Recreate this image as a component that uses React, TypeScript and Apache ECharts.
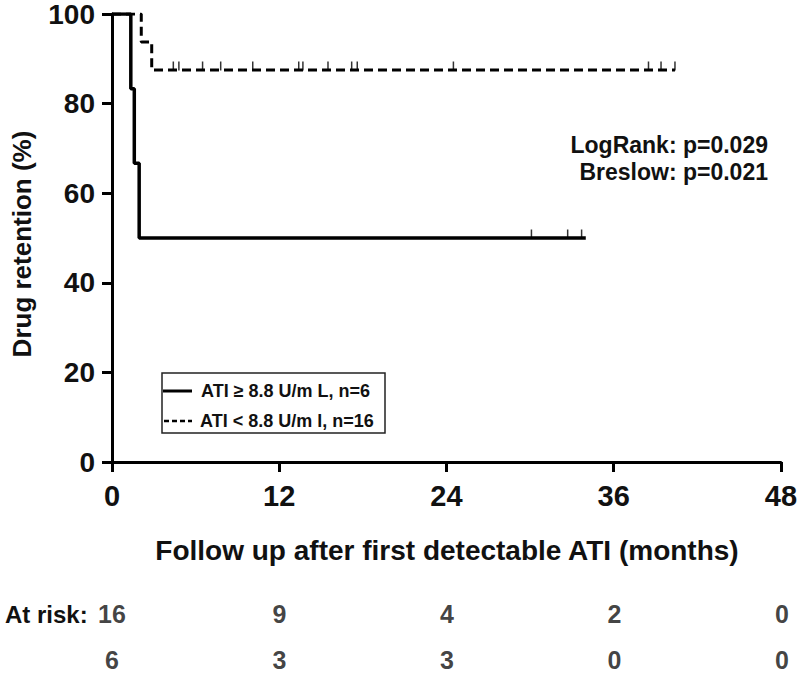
import React, { useEffect, useRef } from "react";
import * as echarts from "echarts";

// ---- data ----
const xTicks = [0, 12, 24, 36, 48];
const yTicks = [0, 20, 40, 60, 80, 100];

// Kaplan-Meier step points (months, % retained)
const highTimes = [0, 1.35, 1.6, 1.95, 34.0];
const highSurv = [100, 83.3, 66.7, 50, 50];
const highCensor = [30.1, 32.7, 33.7];

const lowTimes = [0, 2.1, 2.85, 40.4];
const lowSurv = [100, 93.75, 87.5, 87.5];
const lowCensor = [4.4, 4.8, 6.5, 7.8, 10.1, 13.4, 13.7, 15.5, 17.2, 17.6, 24.5, 38.5, 39.4, 40.4];

const riskTimes = [0, 12, 24, 36, 48];
const riskLow = [16, 9, 4, 2, 0];
const riskHigh = [6, 3, 3, 0, 0];

const legendHigh = "ATI \u2265 8.8 U/m L, n=6";
const legendLow = "ATI < 8.8 U/m l, n=16";
const xTitle = "Follow up after first detectable ATI (months)";
const yTitle = "Drug retention (%)";
const statLines = ["LogRank: p=0.029", "Breslow: p=0.021"];

const FONT = "'Liberation Sans', Arial, Helvetica, sans-serif";

export default function App() {
  const ref = useRef<HTMLDivElement>(null);
  useEffect(() => {
    if (!ref.current) return;
    const chart = echarts.init(ref.current, null, { renderer: "svg" });
    const pts = (t: number[], s: number[]) => t.map((x, i) => [x, s[i]]);
    const censorPts = (c: number[], t: number[], s: number[]) =>
      c.map((x) => {
        let v = s[0];
        for (let i = 0; i < t.length; i++) if (t[i] <= x) v = s[i];
        return [x, v];
      });
    const riskLabel = {
      show: true,
      position: "inside",
      color: "#111",
      fontFamily: FONT,
      fontWeight: "bold",
      fontSize: 25,
      formatter: (p: any) => String(p.value[2]),
    };

    const option: any = {
      animation: false,
      backgroundColor: "#ffffff",
      grid: [
        { left: 112, top: 13, width: 670, height: 449, containLabel: false },
        { left: 112, top: 600, width: 670, height: 69, containLabel: false },
      ],
      xAxis: [
        {
          gridIndex: 0,
          type: "value",
          min: 0,
          max: 48,
          interval: 12,
          axisLine: { show: true, onZero: false, lineStyle: { color: "#000", width: 3 } },
          axisTick: { show: true, inside: false, length: 10, lineStyle: { color: "#000", width: 3 } },
          axisLabel: {
            color: "#111",
            fontFamily: FONT,
            fontWeight: "bold",
            fontSize: 29,
            margin: 19,
            formatter: (v: number) => (xTicks.includes(v) ? String(v) : ""),
          },
          splitLine: { show: false },
        },
        { gridIndex: 1, type: "value", min: 0, max: 48, show: false },
      ],
      yAxis: [
        {
          gridIndex: 0,
          type: "value",
          min: 0,
          max: 100,
          interval: 20,
          axisLine: { show: true, onZero: false, lineStyle: { color: "#000", width: 3 } },
          axisTick: { show: true, inside: false, length: 10, lineStyle: { color: "#000", width: 3 } },
          axisLabel: {
            color: "#111",
            fontFamily: FONT,
            fontWeight: "bold",
            fontSize: 28,
            margin: 17,
            formatter: (v: number) => (yTicks.includes(v) ? String(v) : ""),
          },
          splitLine: { show: false },
        },
        { gridIndex: 1, type: "value", min: 0.7, max: 2.2, inverse: true, show: false },
      ],
      series: [
        {
          type: "line",
          xAxisIndex: 0,
          yAxisIndex: 0,
          step: "end",
          symbol: "none",
          data: pts(highTimes, highSurv),
          lineStyle: { color: "#000", width: 3.5 },
          z: 3,
        },
        {
          type: "line",
          xAxisIndex: 0,
          yAxisIndex: 0,
          step: "end",
          symbol: "none",
          data: pts(lowTimes, lowSurv),
          lineStyle: { color: "#000", width: 3, type: [9, 5] },
          z: 2,
        },
        {
          type: "scatter",
          xAxisIndex: 0,
          yAxisIndex: 0,
          symbol: "rect",
          symbolSize: [1.5, 9],
          symbolOffset: [0, -4],
          itemStyle: { color: "#000" },
          data: censorPts(highCensor, highTimes, highSurv),
        },
        {
          type: "scatter",
          xAxisIndex: 0,
          yAxisIndex: 0,
          symbol: "rect",
          symbolSize: [1.5, 9],
          symbolOffset: [0, -4],
          itemStyle: { color: "#000" },
          data: censorPts(lowCensor, lowTimes, lowSurv),
        },
        {
          type: "scatter",
          xAxisIndex: 1,
          yAxisIndex: 1,
          symbolSize: 0,
          silent: true,
          label: riskLabel,
          data: riskTimes.map((t, i) => [t, 1, riskLow[i]]),
        },
        {
          type: "scatter",
          xAxisIndex: 1,
          yAxisIndex: 1,
          symbolSize: 0,
          silent: true,
          label: riskLabel,
          data: riskTimes.map((t, i) => [t, 2, riskHigh[i]]),
        },
      ],
      graphic: [
        {
          type: "text",
          x: 22,
          y: 244,
          rotation: Math.PI / 2,
          style: {
            text: yTitle,
            fill: "#111",
            font: `bold 26px ${FONT}`,
            align: "center",
            verticalAlign: "middle",
          },
        },
        {
          type: "text",
          x: 447,
          y: 550,
          style: {
            text: xTitle,
            fill: "#111",
            font: `bold 28px ${FONT}`,
            align: "center",
            verticalAlign: "middle",
          },
        },
        {
          type: "text",
          x: 768,
          y: 145,
          style: {
            text: statLines[0],
            fill: "#111",
            font: `bold 23px ${FONT}`,
            align: "right",
            verticalAlign: "middle",
          },
        },
        {
          type: "text",
          x: 768,
          y: 172,
          style: {
            text: statLines[1],
            fill: "#111",
            font: `bold 23px ${FONT}`,
            align: "right",
            verticalAlign: "middle",
          },
        },
        {
          type: "rect",
          shape: { x: 162, y: 373, width: 223, height: 60 },
          style: { fill: "#fff", stroke: "#222", lineWidth: 1.5 },
          z: 10,
        },
        {
          type: "line",
          shape: { x1: 163, y1: 391, x2: 192, y2: 391 },
          style: { stroke: "#000", lineWidth: 3 },
          z: 11,
        },
        {
          type: "line",
          shape: { x1: 164, y1: 421, x2: 192, y2: 421 },
          style: { stroke: "#000", lineWidth: 2.5, lineDash: [5, 3] },
          z: 11,
        },
        {
          type: "text",
          x: 201,
          y: 391,
          z: 11,
          style: {
            text: legendHigh,
            fill: "#111",
            font: `bold 18px ${FONT}`,
            align: "left",
            verticalAlign: "middle",
          },
        },
        {
          type: "text",
          x: 200,
          y: 421,
          z: 11,
          style: {
            text: legendLow,
            fill: "#111",
            font: `bold 18px ${FONT}`,
            align: "left",
            verticalAlign: "middle",
          },
        },
        {
          type: "text",
          x: 5,
          y: 614,
          style: {
            text: "At risk:",
            fill: "#111",
            font: `bold 24px ${FONT}`,
            align: "left",
            verticalAlign: "middle",
          },
        },
      ],
    };
    chart.setOption(option);
    return () => chart.dispose();
  }, []);
  return (
    <div
      ref={ref}
      style={{ position: "fixed", left: 0, top: 0, width: 800, height: 676, background: "#fff" }}
    />
  );
}
